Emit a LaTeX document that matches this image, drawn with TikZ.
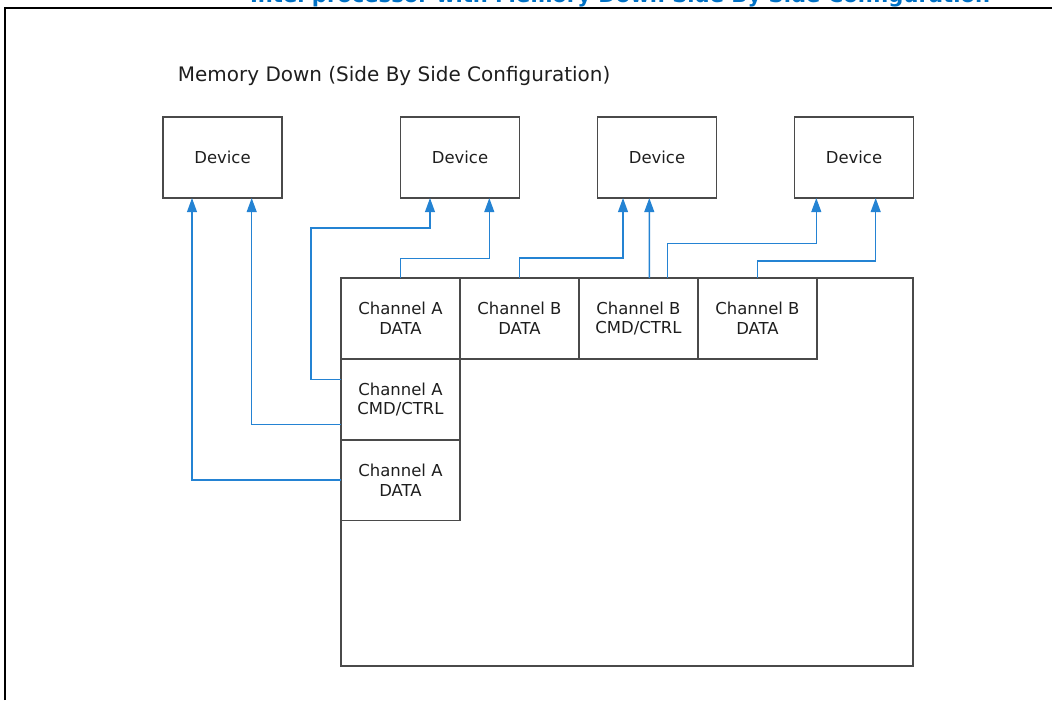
\documentclass[tikz,border=0pt]{standalone}
\usepackage{fontspec}
\setmainfont{DejaVu Sans}
\usetikzlibrary{arrows.meta,calc,positioning}
\definecolor{boxgray}{HTML}{4A4A4A}
\definecolor{inkgray}{HTML}{1E1E1E}
\definecolor{linkblue}{HTML}{2483D3}
\definecolor{headblue}{HTML}{0071C5}
\begin{document}
\begin{tikzpicture}[
    x=0.025cm, y=-0.025cm,
    device/.style={draw=boxgray, line width=1pt, minimum width=2.975cm, minimum height=2.025cm, outer sep=0pt, text=inkgray, font=\fontsize{11.7}{14.2}\selectfont},
    cell/.style={device, align=center},
    chip/.style={draw=boxgray, line width=1pt, minimum width=14.3cm, minimum height=9.7cm, outer sep=0pt},
    link/.style={-{Triangle[length=10pt, width=7pt]}, line width=1.1pt, linkblue},
    frame/.style={draw=black, line width=1.4pt}
]
    \useasboundingbox (0,0) rectangle (1052,700);

    % cut heading and outer frame
    \begin{scope}
        \clip (0,0) rectangle (1052,7);
        \node[anchor=base east, headblue, font=\bfseries\fontsize{15}{17}\selectfont] (caption) at (995,2) {Intel processor with Memory Down Side By Side Configuration};
    \end{scope}
    \draw[frame] (5,700) -- (5,8) -- (1052,8);

    % Title
    \node[anchor=west, text=inkgray, font=\fontsize{14.2}{16}\selectfont] (title) at (173,76) {Memory Down (Side By Side Configuration)};

    % Devices
    \node[device] (dev1) at (222.5,157.5) {Device};
    \node[device] (dev2) at (460,157.5) {Device};
    \node[device] (dev3) at (657,157.5) {Device};
    \node[device] (dev4) at (854,157.5) {Device};

    % SoC and its channel cells
    \node[chip] (soc) at (627,472) {};
    \node[cell] (chAdata) at (400.5,318.5) {Channel A\\DATA};
    \node[cell] (chBdata) at (519.5,318.5) {Channel B\\DATA};
    \node[cell] (chBcmd) at (638.5,318.5) {Channel B\\CMD/CTRL};
    \node[cell] (chBdataR) at (757.5,318.5) {Channel B\\DATA};
    \node[cell] (chAcmd) at (400.5,399.5) {Channel A\\CMD/CTRL};
    \node[cell] (chAdataL) at (400.5,480) {Channel A\\DATA};

    % Channel A to the left devices
    \draw[link] (chAdataL.west) -| ($(dev1.south)+(-30.5,0)$);
    \draw[link] ($(chAcmd.west)+(0,25)$) -| ($(dev1.south)+(29.2,0)$);
    \draw[link] ($(chAcmd.west)+(0,-20)$) -- ++(-30,0) -- ++(0,-151.5) -| ($(dev2.south)+(-30,0)$);
    \draw[link] (chAdata.north) -- ++(0,-19.5) -| ($(dev2.south)+(29.3,0)$);

    % Channel B to the right devices
    \draw[link] (chBdata.north) -- ++(0,-20) -| ($(dev3.south)+(-34,0)$);
    \draw[link] ($(chBcmd.north)+(10.8,0)$) -- ($(dev3.south)+(-7.7,0)$);
    \draw[link] ($(chBcmd.north)+(29.2,0)$) -- ++(0,-34.7) -| ($(dev4.south)+(-37.7,0)$);
    \draw[link] (chBdataR.north) -- ++(0,-17) -| ($(dev4.south)+(21.7,0)$);
\end{tikzpicture}
\end{document}
